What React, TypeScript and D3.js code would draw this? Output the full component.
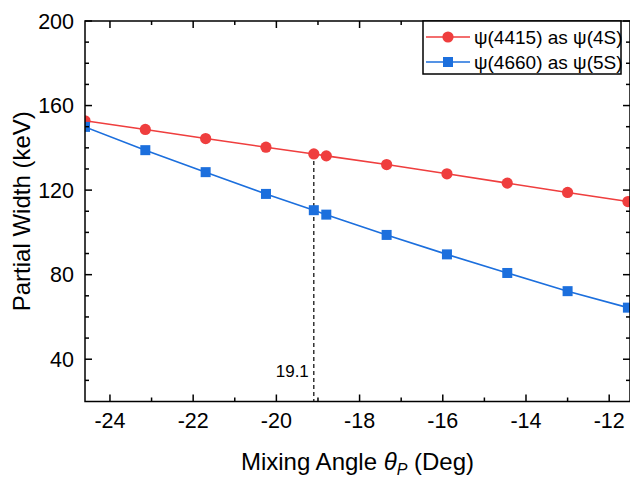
import React from 'react';
import * as d3 from 'd3';

// mixing angle (deg) and partial widths (keV)
const angles = [-24.6, -23.15, -21.7, -20.25, -19.1, -18.8, -17.35, -15.9, -14.45, -13.0, -11.55];
const width4S = [152.8, 148.7, 144.4, 140.3, 137.1, 136.2, 132.1, 127.7, 123.3, 118.9, 114.6];
const width5S = [149.9, 138.9, 128.5, 118.2, 110.5, 108.4, 98.8, 89.6, 80.8, 72.2, 64.4];
const xMajorTicks = [-24, -22, -20, -18, -16, -14, -12];
const yMajorTicks = [40, 80, 120, 160, 200];
const markAngle = -19.1;
const markLabel = '19.1';
const legendLabels = ['ψ(4415) as ψ(4S)', 'ψ(4660) as ψ(5S)'];

const W = 630;
const H = 478;
const m = { left: 85, right: 630, top: 21, bottom: 401.5 };
const RED = '#EF3E3E';
const BLUE = '#1C6FDD';
const FONT = '"Liberation Sans", Arial, sans-serif';

export default function App() {
  const x = d3.scaleLinear().domain([-24.6, -11.5]).range([m.left, m.right]);
  const y = d3.scaleLinear().domain([20, 200]).range([m.bottom, m.top]);

  const xMinor = d3.range(-25, -10, 1).filter((v) => x(v) > m.left + 1 && x(v) < m.right - 1 && !xMajorTicks.includes(v));
  const yMinor = d3.range(30, 200, 10).filter((v) => !yMajorTicks.includes(v));

  const line = d3
    .line<number>()
    .x((_, i) => x(angles[i]))
    .y((d) => y(d));

  const tickLen = 7;
  const minorLen = 4;

  return (
    <svg width={W} height={H} style={{ position: 'absolute', left: 0, top: 0 }} fontFamily={FONT}>
      <defs>
        <clipPath id="plot">
          <rect x={m.left} y={m.top} width={m.right - m.left} height={m.bottom - m.top} />
        </clipPath>
      </defs>
      <rect width={W} height={H} fill="#fff" />

      {/* dashed marker line */}
      <line
        x1={x(markAngle)}
        x2={x(markAngle)}
        y1={y(width4S[4])}
        y2={m.bottom}
        stroke="#000"
        strokeWidth={1.2}
        strokeDasharray="4,3"
      />
      <text x={x(markAngle) - 5} y={377} fontSize={17} textAnchor="end" fill="#000">
        {markLabel}
      </text>

      <g clipPath="url(#plot)">
        <path d={line(width4S) || ''} fill="none" stroke={RED} strokeWidth={1.6} />
        <path d={line(width5S) || ''} fill="none" stroke={BLUE} strokeWidth={1.6} />
        {width4S.map((v, i) => (
          <circle key={'r' + i} cx={x(angles[i])} cy={y(v)} r={5.6} fill={RED} />
        ))}
        {width5S.map((v, i) => (
          <rect key={'b' + i} x={x(angles[i]) - 5} y={y(v) - 5} width={10} height={10} fill={BLUE} />
        ))}
      </g>

      {/* frame */}
      <rect
        x={m.left}
        y={m.top}
        width={m.right - m.left}
        height={m.bottom - m.top}
        fill="none"
        stroke="#000"
        strokeWidth={1.5}
      />

      {/* x ticks, bottom and top */}
      {xMajorTicks.map((v) => (
        <g key={'xt' + v}>
          <line x1={x(v)} x2={x(v)} y1={m.bottom} y2={m.bottom - tickLen} stroke="#000" strokeWidth={1.5} />
          <line x1={x(v)} x2={x(v)} y1={m.top} y2={m.top + tickLen} stroke="#000" strokeWidth={1.5} />
          <text x={x(v)} y={428} fontSize={21.5} textAnchor="middle" fill="#000">
            {v}
          </text>
        </g>
      ))}
      {xMinor.map((v) => (
        <g key={'xm' + v}>
          <line x1={x(v)} x2={x(v)} y1={m.bottom} y2={m.bottom - minorLen} stroke="#000" strokeWidth={1.5} />
          <line x1={x(v)} x2={x(v)} y1={m.top} y2={m.top + minorLen} stroke="#000" strokeWidth={1.5} />
        </g>
      ))}

      {/* y ticks, left and right */}
      {yMajorTicks.map((v) => (
        <g key={'yt' + v}>
          <line x1={m.left} x2={m.left + tickLen} y1={y(v)} y2={y(v)} stroke="#000" strokeWidth={1.5} />
          <line x1={m.right} x2={m.right - tickLen} y1={y(v)} y2={y(v)} stroke="#000" strokeWidth={1.5} />
          <text x={74} y={y(v)} dy="0.36em" fontSize={21.5} textAnchor="end" fill="#000">
            {v}
          </text>
        </g>
      ))}
      {yMinor.map((v) => (
        <g key={'ym' + v}>
          <line x1={m.left} x2={m.left + minorLen} y1={y(v)} y2={y(v)} stroke="#000" strokeWidth={1.5} />
          <line x1={m.right} x2={m.right - minorLen} y1={y(v)} y2={y(v)} stroke="#000" strokeWidth={1.5} />
        </g>
      ))}

      {/* axis titles */}
      <text x={(m.left + m.right) / 2} y={470} fontSize={24} textAnchor="middle" fill="#000">
        Mixing Angle{' '}
        <tspan fontStyle="italic">θ</tspan>
        <tspan fontStyle="italic" fontSize={16} dy={5}>
          P
        </tspan>
        <tspan dy={-5}> (Deg)</tspan>
      </text>
      <text
        transform={`translate(30,${(m.top + m.bottom) / 2}) rotate(-90)`}
        fontSize={24}
        textAnchor="middle"
        fill="#000"
      >
        Partial Width (keV)
      </text>

      {/* legend */}
      <g>
        <rect x={423} y={m.top} width={198} height={53} fill="#fff" stroke="#000" strokeWidth={1.5} />
        {legendLabels.map((lab, i) => {
          const cy = 37 + i * 25;
          const col = i === 0 ? RED : BLUE;
          return (
            <g key={lab}>
              <line x1={426} x2={470} y1={cy} y2={cy} stroke={col} strokeWidth={1.6} />
              {i === 0 ? (
                <circle cx={448} cy={cy} r={5.6} fill={col} />
              ) : (
                <rect x={443} y={cy - 5} width={10} height={10} fill={col} />
              )}
              <text x={474} y={cy} dy="0.36em" fontSize={19} fill="#000">
                {lab}
              </text>
            </g>
          );
        })}
      </g>
    </svg>
  );
}
